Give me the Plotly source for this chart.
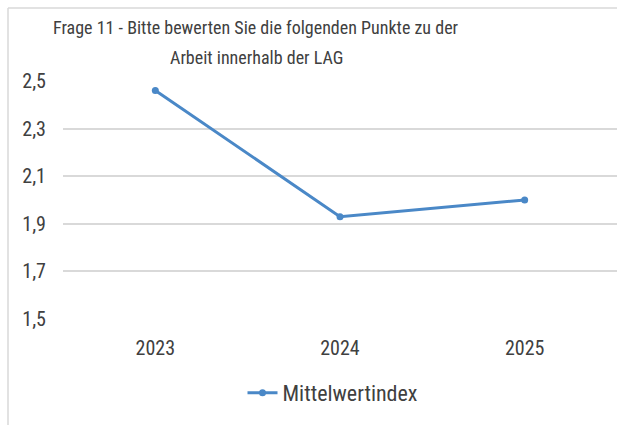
import plotly.graph_objects as go

years = ["2023", "2024", "2025"]
mittelwertindex = [2.46, 1.93, 2.00]
y_ticks = [1.5, 1.7, 1.9, 2.1, 2.3, 2.5]
title_line1 = "Frage 11 - Bitte bewerten Sie die folgenden Punkte zu der"
title_line2 = "Arbeit innerhalb der LAG"
series_name = "Mittelwertindex"

FONT = "Liberation Sans Narrow, Roboto Condensed, Arial Narrow, Liberation Sans, sans-serif"
TXT = "#404040"
BLUE = "#4A88C7"

W, H = 617, 425
L, R, T, B = 63, 0, 81, 106
pw = W - L - R
ph = H - T - B

def px_x(p):
    return (p - L) / pw

def px_y(p):
    return (H - B - p) / ph

fig = go.Figure()
fig.add_trace(go.Scatter(
    x=years, y=mittelwertindex, name=series_name, mode="lines+markers",
    line=dict(color=BLUE, width=3), marker=dict(color=BLUE, size=7),
))

fig.update_layout(
    width=W, height=H,
    margin=dict(l=L, r=R, t=T, b=B, pad=0),
    paper_bgcolor="white", plot_bgcolor="white",
    separators=",.",
    font=dict(family=FONT, color=TXT),
    showlegend=True,
    legend=dict(orientation="h", x=px_x(333), xanchor="center", y=px_y(393), yanchor="middle",
                font=dict(size=22, color=TXT, family=FONT), itemwidth=30,
                bgcolor="rgba(0,0,0,0)"),
    xaxis=dict(type="category", range=[-0.5, 2.5], showgrid=False, zeroline=False,
               showline=False, ticks="", tickfont=dict(size=20, color=TXT),
               ticklabelstandoff=15, fixedrange=True),
    yaxis=dict(range=[1.5, 2.5], tickvals=y_ticks, tickformat=".1f",
               showgrid=True, gridcolor="#d9d9d9", gridwidth=1.5, zeroline=False,
               showline=False, ticks="", tickfont=dict(size=20, color=TXT),
               ticklabelstandoff=16, fixedrange=True),
    annotations=[
        dict(text=title_line1, xref="paper", yref="paper", x=px_x(256), y=px_y(28),
             xanchor="center", yanchor="middle", showarrow=False,
             font=dict(size=18, color=TXT, family=FONT)),
        dict(text=title_line2, xref="paper", yref="paper", x=px_x(256), y=px_y(58),
             xanchor="center", yanchor="middle", showarrow=False,
             font=dict(size=18, color=TXT, family=FONT)),
    ],
    shapes=[
        dict(type="line", xref="paper", yref="paper", x0=px_x(8), x1=px_x(620),
             y0=px_y(8), y1=px_y(8), line=dict(color="#d9d9d9", width=1.5)),
        dict(type="line", xref="paper", yref="paper", x0=px_x(8), x1=px_x(8),
             y0=px_y(8), y1=px_y(430), line=dict(color="#d9d9d9", width=1.5)),
    ],
)

fig.write_html(
    "out.html",
    config={"displayModeBar": False},
    post_script="document.body.style.margin='0';document.body.style.overflow='hidden';",
)
